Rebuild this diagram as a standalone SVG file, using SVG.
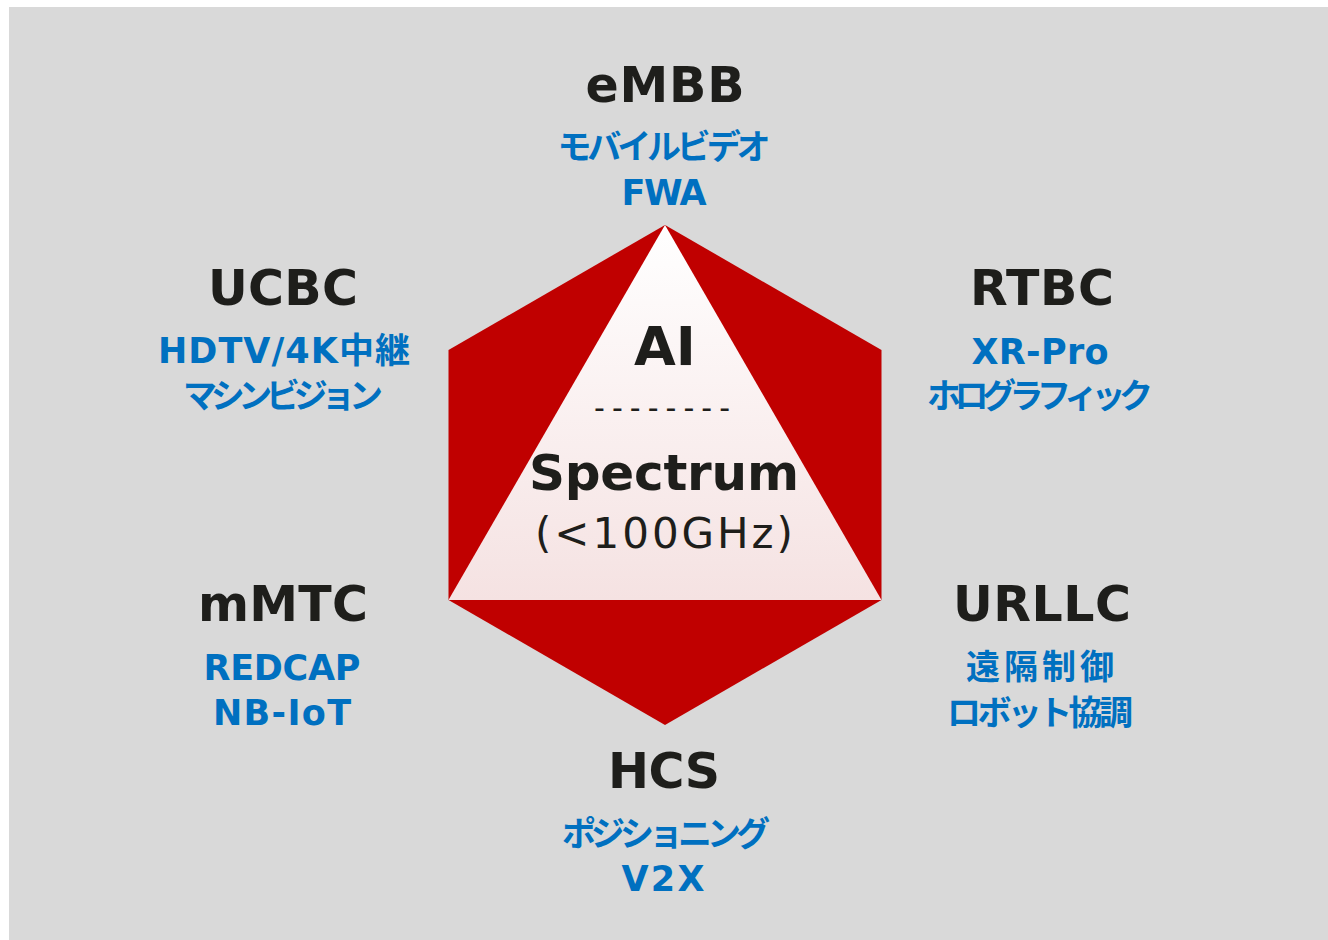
<svg xmlns="http://www.w3.org/2000/svg" width="1328" height="940" viewBox="0 0 1328 940">
  <defs>
    <linearGradient id="triGrad" x1="0" y1="0" x2="0" y2="1">
      <stop offset="0" stop-color="#ffffff"/>
      <stop offset="1" stop-color="#f5e2e2"/>
    </linearGradient>
    <style>
      .title { font-family: "DejaVu Sans", "Noto Sans CJK JP", sans-serif; font-weight: bold; font-size: 49px; fill: #1e1e1b; text-anchor: middle; }
      .sub { font-family: "DejaVu Sans", "Noto Sans CJK JP", sans-serif; font-weight: bold; font-size: 35px; fill: #0070c0; text-anchor: middle; }
      .jp { font-family: "Noto Sans CJK JP", sans-serif; font-weight: bold; font-size: 34px; fill: #0070c0; text-anchor: middle; }
      .center-b { font-family: "DejaVu Sans", sans-serif; font-weight: bold; fill: #1e1e1b; text-anchor: middle; }
      .center-r { font-family: "DejaVu Sans", sans-serif; font-weight: normal; fill: #1e1e1b; text-anchor: middle; }
    </style>
  </defs>

  <rect x="0" y="0" width="1328" height="940" fill="#ffffff"/>
  <rect x="9" y="7" width="1319" height="933" fill="#d9d9d9"/>

  <g id="core">
    <polygon points="665,225 881.5,350 881.5,600 665,725 448.5,600 448.5,350" fill="#c00000"/>
    <polygon points="665,225 881.5,600 448.5,600" fill="url(#triGrad)"/>
    <text class="center-b" x="665" y="365" font-size="54">AI</text>
    <text class="center-r" x="662" y="418" font-size="30" textLength="136" lengthAdjust="spacing">--------</text>
    <text class="center-b" x="664" y="490" font-size="50" textLength="270" lengthAdjust="spacing">Spectrum</text>
    <text class="center-r" x="664" y="548" font-size="42" textLength="258" lengthAdjust="spacing">(&lt;100GHz)</text>
  </g>

  <g id="embb">
    <text class="title" x="665" y="102" textLength="159" lengthAdjust="spacing">eMBB</text>
    <text class="jp" x="664" y="159" textLength="213" lengthAdjust="spacing">モバイルビデオ</text>
    <text class="sub" x="664" y="205" textLength="85" lengthAdjust="spacing">FWA</text>
  </g>

  <g id="ucbc">
    <text class="title" x="283" y="305" textLength="150" lengthAdjust="spacing">UCBC</text>
    <text class="sub" x="284" y="363" textLength="252" lengthAdjust="spacing">HDTV/4K中継</text>
    <text class="jp" x="283" y="408" textLength="200" lengthAdjust="spacing">マシンビジョン</text>
  </g>

  <g id="rtbc">
    <text class="title" x="1042" y="305" textLength="144" lengthAdjust="spacing">RTBC</text>
    <text class="sub" x="1040" y="364" textLength="137" lengthAdjust="spacing">XR-Pro</text>
    <text class="jp" x="1040" y="408" textLength="226" lengthAdjust="spacing">ホログラフィック</text>
  </g>

  <g id="mmtc">
    <text class="title" x="283" y="621" textLength="170" lengthAdjust="spacing">mMTC</text>
    <text class="sub" x="282" y="680" textLength="157" lengthAdjust="spacing">REDCAP</text>
    <text class="sub" x="282" y="725" textLength="138" lengthAdjust="spacing">NB-IoT</text>
  </g>

  <g id="urllc">
    <text class="title" x="1042" y="621" textLength="178" lengthAdjust="spacing">URLLC</text>
    <text class="jp" x="1040" y="679" font-size="36" textLength="148" lengthAdjust="spacing">遠隔制御</text>
    <text class="jp" x="1040" y="725" textLength="186" lengthAdjust="spacing">ロボット協調</text>
  </g>

  <g id="hcs">
    <text class="title" x="664" y="788" textLength="112" lengthAdjust="spacing">HCS</text>
    <text class="jp" x="666" y="846" textLength="208" lengthAdjust="spacing">ポジショニング</text>
    <text class="sub" x="663" y="891" textLength="83" lengthAdjust="spacing">V2X</text>
  </g>
</svg>
